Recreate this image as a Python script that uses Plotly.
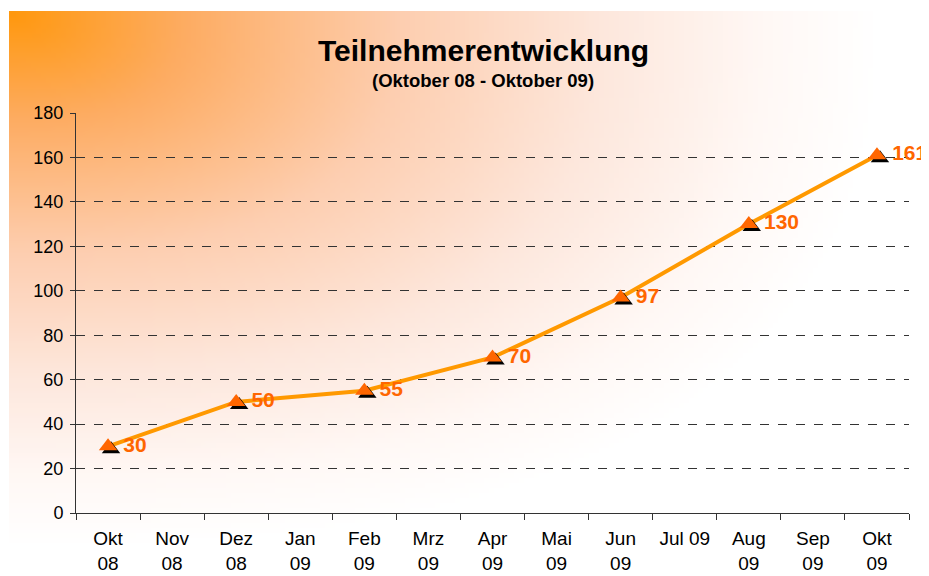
import base64
import struct
import zlib

import plotly.graph_objects as go

# ---------------- data ----------------
months = ["Okt<br>08", "Nov<br>08", "Dez<br>08", "Jan<br>09", "Feb<br>09", "Mrz<br>09",
          "Apr<br>09", "Mai<br>09", "Jun<br>09", "Jul 09", "Aug<br>09", "Sep<br>09", "Okt<br>09"]
participants = [30, None, 50, None, 55, None, 70, None, 97, None, 130, None, 161]
y_ticks = [0, 20, 40, 60, 80, 100, 120, 140, 160, 180]

# ---------------- background gradient (decoration) ----------------
def gradient_png(w, h):
    stops = [(0.0, (255, 152, 14)), (0.2, (253, 172, 98)), (0.45, (253, 206, 176)),
             (0.68, (253, 231, 220)), (0.87, (255, 248, 245)), (1.0, (255, 255, 255))]

    def col(t):
        t = max(0.0, min(1.0, t))
        for (t0, c0), (t1, c1) in zip(stops[:-1], stops[1:]):
            if t <= t1:
                f = (t - t0) / (t1 - t0)
                return tuple(int(round(a + (b - a) * f)) for a, b in zip(c0, c1))
        return stops[-1][1]

    raw = bytearray()
    p = 2.5
    for j in range(h):
        raw.append(0)
        fy = j / (h - 1)
        for i in range(w):
            fx = i / (w - 1)
            d = (fx ** p + fy ** p) ** (1 / p)
            raw.extend(col(d / 0.95))

    def chunk(tag, data):
        c = struct.pack(">I", len(data)) + tag + data
        return c + struct.pack(">I", zlib.crc32(tag + data) & 0xFFFFFFFF)

    png = b"\x89PNG\r\n\x1a\n"
    png += chunk(b"IHDR", struct.pack(">IIBBBBB", w, h, 8, 2, 0, 0, 0))
    png += chunk(b"IDAT", zlib.compress(bytes(raw), 9))
    png += chunk(b"IEND", b"")
    return "data:image/png;base64," + base64.b64encode(png).decode()


FONT = "Liberation Sans, Arial, sans-serif"
ORANGE_LINE = "#FF9900"
ORANGE_MARK = "#FF6600"

# figure geometry (the page body adds an 8px offset)
W, H = 921, 568
L, R, T, B = 68, 20, 105, 63
pw, ph = W - L - R, H - T - B
cat_w = pw / len(months)
sdx = 3 / cat_w
sdy = 3 * 180 / ph

fig = go.Figure()

fig.add_trace(go.Scatter(
    x=months, y=participants, mode="lines", connectgaps=True,
    line=dict(color=ORANGE_LINE, width=4), hoverinfo="skip", showlegend=False,
    xaxis="x", yaxis="y"))

fig.add_trace(go.Scatter(
    x=months, y=participants, mode="markers",
    marker=dict(symbol="triangle-up", size=16, color="black"),
    hoverinfo="skip", showlegend=False, cliponaxis=False, xaxis="x3", yaxis="y3"))

fig.add_trace(go.Scatter(
    x=months, y=participants, mode="markers+text",
    marker=dict(symbol="triangle-up", size=16, color=ORANGE_MARK),
    text=[("\u2009%d" % v if v is not None else "") for v in participants],
    textposition="middle right", cliponaxis=False,
    textfont=dict(family=FONT, size=21, color=ORANGE_MARK, weight="bold"),
    showlegend=False, xaxis="x4", yaxis="y4"))

fig.update_layout(
    width=W, height=H,
    margin=dict(l=L, r=R, t=T, b=B, autoexpand=False),
    paper_bgcolor="white",
    plot_bgcolor="rgba(0,0,0,0)",
    font=dict(family=FONT, size=18, color="black"),
    images=[dict(source=gradient_png(184, 113), xref="paper", yref="paper",
                 x=(1 - L) / pw, y=(H - B - 3) / ph, sizex=(917 - 1) / pw,
                 sizey=(H - 3) / ph, xanchor="left", yanchor="top",
                 sizing="stretch", layer="below")],
    xaxis=dict(type="category", categoryorder="array", categoryarray=months,
               range=[-0.5, len(months) - 0.5], tickson="boundaries",
               ticks="outside", ticklen=6, tickcolor="#333", showline=True,
               linecolor="#333", linewidth=1, showgrid=False, zeroline=False,
               ticklabelstandoff=8,
               tickfont=dict(family=FONT, size=19, color="black"), fixedrange=True),
    yaxis=dict(range=[0, 180], tickvals=y_ticks, ticks="outside", ticklen=5,
               tickcolor="#333", showline=True, linecolor="#333", linewidth=1,
               showgrid=True, gridcolor="#333", griddash="dash", gridwidth=1,
               zeroline=False, ticklabelstandoff=3,
               tickfont=dict(family=FONT, size=18, color="black"),
               fixedrange=True),
    xaxis3=dict(type="category", categoryorder="array", categoryarray=months,
                overlaying="x", range=[-0.5 - sdx, len(months) - 0.5 - sdx],
                visible=False, fixedrange=True),
    yaxis3=dict(overlaying="y", range=[sdy, 180 + sdy], visible=False, fixedrange=True),
    xaxis4=dict(type="category", categoryorder="array", categoryarray=months,
                overlaying="x", range=[-0.5, len(months) - 0.5],
                visible=False, fixedrange=True),
    yaxis4=dict(overlaying="y", range=[0, 180], visible=False, fixedrange=True),
    annotations=[
        dict(text="<b>Teilnehmerentwicklung</b>", xref="paper", yref="paper",
             x=(475 - L) / pw, y=(H - B - 43) / ph, xanchor="center", yanchor="middle",
             showarrow=False, font=dict(family=FONT, size=30, color="black")),
        dict(text="<b>(Oktober 08 - Oktober 09)</b>", xref="paper", yref="paper",
             x=(475 - L) / pw, y=(H - B - 72) / ph, xanchor="center", yanchor="middle",
             showarrow=False, font=dict(family=FONT, size=18.5, color="black")),
    ],
)

fig.write_html("out.html")
